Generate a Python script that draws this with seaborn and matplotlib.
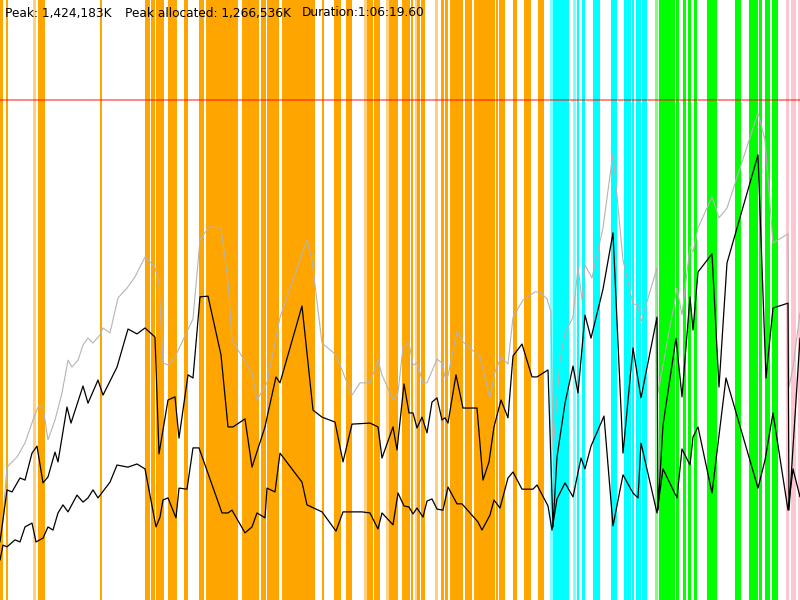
import numpy as np
import pandas as pd
import matplotlib
matplotlib.use('Agg')
import matplotlib.pyplot as plt
import seaborn as sns

# time in seconds, memory in MB
heap_t = [10, 35, 85, 125, 165, 190, 215, 240, 275, 310, 340, 360, 390, 415, 440, 465, 500, 515, 550, 590,
          635, 675, 725, 775, 795, 815, 840, 875, 965, 1000, 1045, 1105, 1140, 1160, 1260, 1285, 1335, 1400,
          1535, 1560, 1610, 1680, 1760, 1800, 1850, 1890, 1910, 1965, 1990, 2015, 2045, 2065, 2085, 2115,
          2135, 2185, 2210, 2225, 2240, 2285, 2315, 2400, 2450, 2475, 2505, 2540, 2565, 2615, 2675, 2700,
          2735, 2755, 2765, 2800, 2825, 2865, 2890, 2910, 2925, 2960, 2985, 3015, 3065, 3115, 3165, 3190,
          3205, 3285, 3290, 3385, 3410, 3450, 3465, 3490, 3560, 3595, 3635, 3790, 3825, 3865, 3940, 3945,
          3965, 4000]
heap_mb = [200, 380, 409, 449, 515, 552, 552, 458, 515, 592, 686, 666, 686, 729, 749, 735, 758, 778, 764, 864,
           892, 924, 981, 952, 907, 678, 672, 695, 804, 1030, 1067, 1064, 915, 744, 649, 572, 621, 809,
           1030, 972, 735, 701, 586, 621, 621, 686, 644, 572, 592, 724, 735, 672, 678, 621,
           621, 689, 678, 638, 641, 769, 738, 695, 578, 652, 695, 675, 809, 858, 881, 881,
           861, 824, 429, 686, 764, 809, 952, 858, 958, 921, 987, 1064, 1278, 972, 847, 844,
           795, 950, 592, 892, 815, 1010, 995, 1064, 1153, 1093, 1121, 1393, 1316, 1021, 1047, 609,
           666, 821]

used_t = [0, 35, 60, 100, 125, 160, 185, 215, 240, 275, 290, 335, 355, 415, 440, 490, 515, 585, 640, 685,
          725, 775, 795, 840, 875, 895, 940, 965, 1000, 1040, 1105, 1140, 1165, 1225, 1260, 1325, 1340,
          1380, 1400, 1510, 1565, 1610, 1675, 1715, 1760, 1850, 1890, 1910, 1965, 1985, 2020, 2045, 2065,
          2085, 2110, 2135, 2160, 2185, 2210, 2225, 2240, 2280, 2315, 2385, 2415, 2445, 2470, 2505, 2540,
          2565, 2610, 2660, 2685, 2740, 2765, 2785, 2825, 2865, 2890, 2925, 2955, 3015, 3065, 3115, 3165,
          3205, 3285, 3290, 3315, 3380, 3410, 3450, 3465, 3490, 3560, 3595, 3635, 3790, 3830, 3865, 3940,
          3945, 4000]
used_mb = [166, 315, 309, 349, 343, 420, 440, 335, 352, 423, 395, 552, 506, 612, 563, 629, 586, 666, 775, 761,
           778, 752, 418, 572, 581, 463, 644, 635, 867, 869, 701, 495, 495, 518, 380, 495, 535,
           638, 621, 841, 543, 523, 509, 395, 503, 506, 495, 406, 495, 429, 618, 535, 535,
           492, 523, 478, 566, 578, 515, 521, 506, 644, 549, 549, 343, 395, 495, 572, 521,
           698, 732, 638, 638, 658, 209, 409, 563, 669, 592, 815, 749, 889, 1050, 420, 721,
           578, 809, 257, 500, 749, 581, 867, 772, 938, 990, 609, 964, 1273, 635, 835, 849,
           257, 749]

live_t = [0, 15, 35, 75, 100, 125, 160, 180, 215, 240, 265, 290, 315, 340, 385, 415, 440, 465, 490, 550,
          585, 640, 685, 725, 780, 800, 815, 840, 880, 895, 935, 965, 995, 1050, 1110, 1140, 1160, 1225,
          1260, 1285, 1325, 1335, 1375, 1400, 1510, 1535, 1610, 1680, 1715, 1810, 1850, 1890, 1910, 1965,
          1990, 2020, 2045, 2065, 2085, 2115, 2135, 2160, 2185, 2215, 2240, 2285, 2310, 2390, 2410, 2450,
          2470, 2500, 2540, 2565, 2610, 2665, 2685, 2740, 2760, 2785, 2825, 2865, 2905, 2925, 2955, 3020,
          3065, 3115, 3165, 3190, 3205, 3285, 3315, 3385, 3410, 3450, 3465, 3490, 3560, 3630, 3790, 3825,
          3865, 3940, 3965, 4000]
live_mb = [114, 157, 152, 172, 166, 209, 220, 166, 177, 209, 200, 249, 272, 252, 300, 280, 292, 315, 292, 337,
           386, 380, 389, 375, 209, 237, 286, 292, 235, 320, 317, 435, 435, 346, 249, 249, 257, 192,
           209, 249, 235, 320, 309, 420, 337, 272, 252, 197, 252, 252, 249, 203, 249, 215,
           306, 269, 266, 246, 263, 237, 283, 289, 260, 257, 323, 275, 275, 223, 200, 243,
           286, 263, 349, 366, 317, 317, 329, 269, 200, 289, 335, 295, 406, 375, 440, 526,
           212, 358, 306, 292, 449, 249, 375, 292, 432, 386, 466, 495, 306, 635, 320, 400,
           535, 257, 375, 295]

max_heap_mb = 1430

# collection events: start time and duration (s)
young_start = [0, 30, 190, 500, 725, 755, 780, 800, 840, 855, 870, 920, 995, 1030, 1050, 1090, 1110, 1180,
               1210, 1225, 1240, 1305, 1335, 1410, 1440, 1480, 1495, 1515, 1565, 1610, 1670, 1730, 1835,
               1870, 1945, 1970, 2010, 2055, 2085, 2105, 2205, 2225, 2250, 2265, 2280, 2325, 2370, 2400,
               2450, 2480, 2495, 2565, 2620, 2635, 2690]
young_len = [15, 10, 35, 10, 25, 20, 20, 20, 15, 15, 15, 20, 25, 20, 40, 20, 70, 10,
             15, 15, 55, 25, 60, 30, 40, 15, 20, 50, 10, 10, 35, 30, 30,
             30, 25, 20, 40, 10, 15, 20, 15, 15, 15, 15, 35, 35, 30, 50,
             25, 10, 30, 20, 15, 20, 30]
young_faint_start = [165, 1820, 1930, 2075, 2175]
young_faint_len = [15, 15, 15, 10, 15]

mixed_start = [2765, 2830, 2885, 2910, 2965, 2990, 3055, 3120, 3160, 3180, 3210]
mixed_len = [65, 15, 10, 15, 25, 10, 30, 35, 10, 25, 25]
mixed_faint_start = [2750, 2865]
mixed_faint_len = [15, 15]

full_start = [3295, 3325, 3365, 3380, 3415, 3440, 3470, 3535, 3565, 3675, 3745, 3795, 3825, 3860]
full_len = [30, 40, 10, 15, 15, 15, 15, 30, 20, 30, 45, 15, 25, 30]
full_faint_start = [3275]
full_faint_len = [15]

other_start = [3930, 3955, 3970, 3990]
other_len = [15, 15, 10, 10]

sns.set_style('white')
plt.rcParams['font.family'] = ['DejaVu Sans']

fig = plt.figure(figsize=(8, 6), dpi=100)
ax = fig.add_axes([0, 0, 1, 1])
top = 1716

def events(starts, lens, color, alpha=1.0):
    ax.bar(starts, top, width=lens, align='edge', color=color, alpha=alpha, linewidth=0, zorder=1)

events(young_start, young_len, '#ffa500')
events(young_faint_start, young_faint_len, '#ffa500', 0.5)
events(mixed_start, mixed_len, '#00ffff')
events(mixed_faint_start, mixed_faint_len, '#00ffff', 0.5)
events(full_start, full_len, '#00ff00')
events(full_faint_start, full_faint_len, '#00ff00', 0.5)
events(other_start, other_len, '#ffc0cb', 0.9)

ax.axhline(max_heap_mb, color='red', alpha=0.6, lw=1.1, zorder=2)

heap = pd.DataFrame({'t': heap_t, 'mb': heap_mb})
used = pd.DataFrame({'t': used_t, 'mb': used_mb})
live = pd.DataFrame({'t': live_t, 'mb': live_mb})
sns.lineplot(data=heap, x='t', y='mb', ax=ax, color='#b4b4b4', lw=0.8, sort=False, estimator=None, zorder=3)
sns.lineplot(data=used, x='t', y='mb', ax=ax, color='black', lw=0.9, sort=False, estimator=None, zorder=4)
sns.lineplot(data=live, x='t', y='mb', ax=ax, color='black', lw=0.9, sort=False, estimator=None, zorder=4)

ax.set_xlim(0, 4000)
ax.set_ylim(0, top)
ax.axis('off')

fig.text(5 / 800, 1 - 13 / 600, 'Peak: 1,424,183K', fontsize=8.7, va='center', ha='left', color='black')
fig.text(125 / 800, 1 - 13 / 600, 'Peak allocated: 1,266,536K', fontsize=8.7, va='center', ha='left', color='black')
fig.text(302 / 800, 1 - 13 / 600, 'Duration:1:06:19.60', fontsize=8.7, va='center', ha='left', color='black')

fig.savefig('out.png', dpi=100)
